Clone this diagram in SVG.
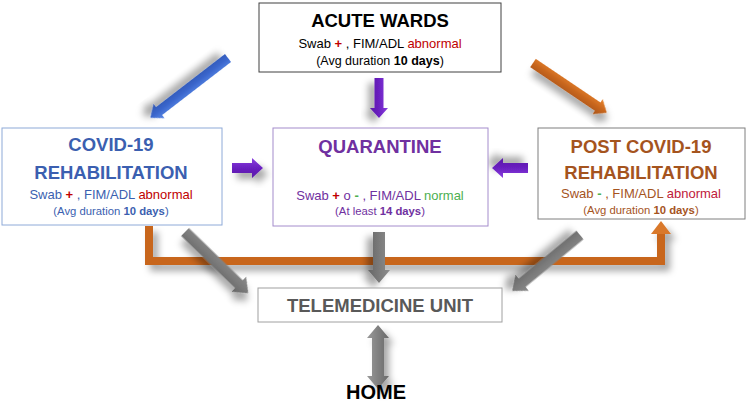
<svg xmlns="http://www.w3.org/2000/svg" width="747" height="403" viewBox="0 0 747 403">
<defs>
<filter id="sh" x="-50%" y="-50%" width="200%" height="200%">
<feDropShadow dx="5" dy="6" stdDeviation="3.5" flood-color="#000" flood-opacity="0.35"/>
</filter>
<linearGradient id="gBlue" x1="0" y1="0" x2="0" y2="1"><stop offset="0" stop-color="#5b8ae8"/><stop offset="0.5" stop-color="#3a66cc"/><stop offset="1" stop-color="#2f55b0"/></linearGradient>
<linearGradient id="gOr" x1="0" y1="0" x2="0" y2="1"><stop offset="0" stop-color="#e8842e"/><stop offset="0.5" stop-color="#c8661e"/><stop offset="1" stop-color="#a85418"/></linearGradient>
<linearGradient id="gPu" x1="0" y1="0" x2="0" y2="1"><stop offset="0" stop-color="#8a3fe0"/><stop offset="0.5" stop-color="#6a20c0"/><stop offset="1" stop-color="#5a18a8"/></linearGradient>
<linearGradient id="gGr" x1="0" y1="0" x2="0" y2="1"><stop offset="0" stop-color="#8c8c8c"/><stop offset="0.5" stop-color="#7a7a7a"/><stop offset="1" stop-color="#666"/></linearGradient>
<linearGradient id="gGrH" x1="0" y1="0" x2="1" y2="0"><stop offset="0" stop-color="#9a9a9a"/><stop offset="0.5" stop-color="#808080"/><stop offset="1" stop-color="#6a6a6a"/></linearGradient>
</defs>
<style>
text{font-family:"Liberation Sans",Arial,sans-serif;text-anchor:middle}
.t{font-weight:bold;font-size:18.5px}
.s{font-size:13px}
.d{font-size:11.3px}
.b{font-weight:bold}
.red{fill:#c00000}
.grn{fill:#4caf50}
.box{fill:#fff;stroke-width:1}
.arr{filter:url(#sh)}
</style>
<g id="connectors">
<g class="arr">
<path d="M149,226 V261 H661 V233" fill="none" stroke="#c8661e" stroke-width="8" stroke-linejoin="miter"/>
<polygon points="651,234 661,221 671,234" fill="#d9782a"/>
</g>
<polygon class="arr" fill="url(#gBlue)" points="0,-5 87,-5 87,-9 98,0 87,9 87,5 0,5" transform="translate(228,58) rotate(142.4)"/>
<polygon class="arr" fill="url(#gOr)" points="0,-5 78,-5 78,-9 89,0 78,9 78,5 0,5" transform="translate(533,63) rotate(34)"/>
<polygon class="arr" fill="url(#gPu)" points="0,-4.5 30,-4.5 30,-9 40,0 30,9 30,4.5 0,4.5" transform="translate(379,78) rotate(90)"/>
<polygon class="arr" fill="url(#gPu)" points="0,-5 20,-5 20,-10 31,0 20,10 20,5 0,5" transform="translate(232,168)"/>
<polygon class="arr" fill="url(#gPu)" points="0,-5 25,-5 25,-10 36,0 25,10 25,5 0,5" transform="translate(528,168) rotate(180)"/>
<polygon class="arr" fill="url(#gGr)" points="0,-5.5 75,-5.5 75,-10.5 88,0 75,10.5 75,5.5 0,5.5" transform="translate(185,232) rotate(44.1)"/>
<polygon class="arr" fill="url(#gGr)" points="0,-6 38,-6 38,-11 51,0 38,11 38,6 0,6" transform="translate(379,232) rotate(90)"/>
<polygon class="arr" fill="url(#gGr)" points="0,-5.5 75,-5.5 75,-10.5 88,0 75,10.5 75,5.5 0,5.5" transform="translate(580,235) rotate(140.5)"/>
<polygon class="arr" fill="url(#gGrH)" points="378,325 389,338 384,338 384,376 389,376 378,389 367,376 372,376 372,338 367,338"/>
</g>
<g id="acute">
<rect class="box" x="259" y="3" width="242" height="69" stroke="#404040"/>
<text class="t" x="380" y="27" fill="#000">ACUTE WARDS</text>
<text class="s" x="380" y="48" fill="#000">Swab <tspan class="b red">+</tspan> , FIM/ADL <tspan class="red">abnormal</tspan></text>
<text x="380" y="65" font-size="12.5" fill="#000">(Avg duration <tspan class="b">10 days</tspan>)</text>
</g>
<g id="covid">
<rect class="box" x="2" y="128" width="220" height="97" stroke="#8eaad8"/>
<text class="t" x="111" y="151" fill="#3b5fb0">COVID-19</text>
<text class="t" x="111" y="179" fill="#3b5fb0">REHABILITATION</text>
<text class="s" x="111" y="199" fill="#3b5fb0">Swab <tspan class="b red">+</tspan> , FIM/ADL <tspan class="red">abnormal</tspan></text>
<text class="d" x="111" y="215" fill="#3b5fb0">(Avg duration <tspan class="b">10 days</tspan>)</text>
</g>
<g id="quarantine">
<rect class="box" x="273" y="128" width="215" height="98" stroke="#a48ccc"/>
<text class="t" x="380" y="153" fill="#7030a0">QUARANTINE</text>
<text class="s" x="380" y="200" fill="#7030a0">Swab <tspan class="b red">+</tspan> o <tspan class="b grn">-</tspan> , FIM/ADL <tspan class="grn">normal</tspan></text>
<text class="d" x="380" y="215" fill="#7030a0">(At least <tspan class="b">14 days</tspan>)</text>
</g>
<g id="post">
<rect class="box" x="538" y="128" width="207" height="91" stroke="#7f7f7f"/>
<text class="t" x="641" y="153" fill="#a5541e">POST COVID-19</text>
<text class="t" x="641" y="179" fill="#a5541e">REHABILITATION</text>
<text class="s" x="641" y="198" fill="#a5541e">Swab <tspan class="b grn">-</tspan> , FIM/ADL <tspan fill="#c0203a">abnormal</tspan></text>
<text class="d" x="641" y="214" fill="#a5541e">(Avg duration <tspan class="b">10 days</tspan>)</text>
</g>
<g id="telemedicine">
<rect class="box" x="258" y="288" width="244" height="34" stroke="#a0a0a0"/>
<text class="t" x="380" y="312" fill="#595959">TELEMEDICINE UNIT</text>
</g>
<g id="home">
<text x="376" y="399" font-size="20" font-weight="bold" fill="#000">HOME</text>
</g>
</svg>
